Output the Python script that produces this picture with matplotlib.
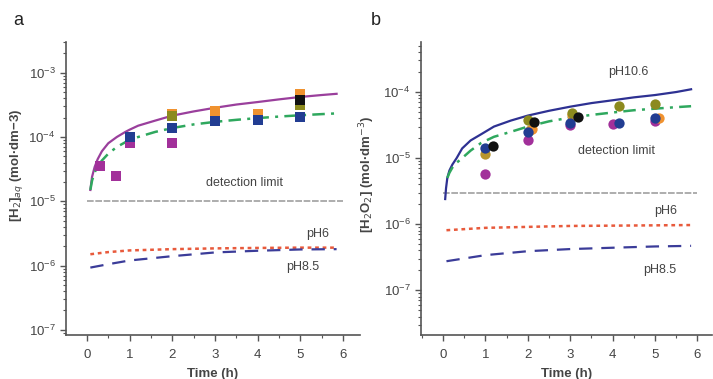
import matplotlib.pyplot as plt
from matplotlib.ticker import LogLocator, NullFormatter, MultipleLocator

plt.rcParams['font.family'] = ['Liberation Sans', 'DejaVu Sans']

# =====================================
# Panel a data: [H2]aq
# =====================================
a_t_high = [0.08, 0.12, 0.18, 0.25, 0.35, 0.5, 0.7, 0.9, 1.0, 1.2, 1.6, 2.0,
            2.5, 3.0, 3.5, 4.0, 4.5, 5.0, 5.5, 5.85]
a_ph106 = [1.5e-5, 2.4e-5, 3.4e-5, 4.5e-5, 6.0e-5, 8.0e-5, 1.0e-4, 1.2e-4, 1.3e-4, 1.5e-4,
           1.8e-4, 2.15e-4, 2.5e-4, 2.85e-4, 3.2e-4, 3.5e-4, 3.85e-4, 4.2e-4, 4.5e-4, 4.7e-4]
a_fit = [1.5e-5, 2.1e-5, 2.8e-5, 3.5e-5, 4.3e-5, 5.5e-5, 7.0e-5, 8.3e-5, 9.0e-5, 1.0e-4,
         1.2e-4, 1.38e-4, 1.57e-4, 1.72e-4, 1.85e-4, 1.97e-4, 2.08e-4, 2.18e-4, 2.27e-4, 2.33e-4]

a_t_low = [0.08, 0.5, 1.0, 2.0, 3.0, 4.0, 5.0, 5.85]
a_ph6 = [1.5e-6, 1.62e-6, 1.72e-6, 1.8e-6, 1.85e-6, 1.88e-6, 1.9e-6, 1.9e-6]
a_ph85 = [9.3e-7, 1.05e-6, 1.2e-6, 1.4e-6, 1.6e-6, 1.7e-6, 1.78e-6, 1.8e-6]
a_detect = 1e-5

# squares (time, value) per series
a_mag_t = [0.3, 0.68, 1.0, 2.0]
a_mag_v = [3.5e-5, 2.5e-5, 8.0e-5, 8.1e-5]
a_orange_t = [2.0, 3.0, 4.0, 5.0]
a_orange_v = [2.3e-4, 2.5e-4, 2.3e-4, 4.7e-4]
a_olive_t = [2.0, 5.0]
a_olive_v = [2.15e-4, 3.1e-4]
a_black_t = [5.0]
a_black_v = [3.8e-4]
a_navy_t = [1.0, 2.0, 3.0, 4.0, 5.0]
a_navy_v = [1.0e-4, 1.4e-4, 1.75e-4, 1.85e-4, 2.05e-4]

# =====================================
# Panel b data: [H2O2]
# =====================================
b_t_high = [0.05, 0.07, 0.1, 0.15, 0.22, 0.32, 0.45, 0.65, 0.9, 1.2, 1.6, 2.0,
            2.5, 3.0, 3.5, 4.0, 4.5, 5.0, 5.5, 5.85]
b_ph106 = [2.4e-6, 3.5e-6, 5.0e-6, 6.5e-6, 8.0e-6, 1.0e-5, 1.4e-5, 1.85e-5, 2.3e-5, 3.0e-5,
           3.7e-5, 4.4e-5, 5.2e-5, 6.0e-5, 6.8e-5, 7.5e-5, 8.3e-5, 9.0e-5, 1.0e-4, 1.1e-4]
b_t_fit = [0.1, 0.15, 0.22, 0.32, 0.45, 0.65, 0.9, 1.2, 1.6, 2.0, 2.5, 3.0, 3.5,
           4.0, 4.5, 5.0, 5.5, 5.85]
b_fit = [5.0e-6, 6.0e-6, 7.2e-6, 8.5e-6, 1.0e-5, 1.3e-5, 1.7e-5, 2.1e-5, 2.5e-5, 3.0e-5,
         3.6e-5, 4.1e-5, 4.5e-5, 4.9e-5, 5.3e-5, 5.6e-5, 5.9e-5, 6.1e-5]

b_t_low = [0.08, 1.0, 2.0, 3.0, 4.0, 5.0, 5.85]
b_ph6 = [8.1e-7, 8.8e-7, 9.1e-7, 9.4e-7, 9.5e-7, 9.6e-7, 9.7e-7]
b_ph85 = [2.75e-7, 3.4e-7, 3.9e-7, 4.2e-7, 4.4e-7, 4.6e-7, 4.7e-7]
b_detect = 3.0e-6

# circles (time, value) per series
b_mag_t = [1.0, 2.0, 3.0, 4.0, 5.0]
b_mag_v = [5.7e-6, 1.9e-5, 3.2e-5, 3.3e-5, 3.7e-5]
b_tan_t = [1.0, 2.05]
b_tan_v = [1.15e-5, 2.7e-5]
b_orange_t = [2.1, 3.05, 5.1]
b_orange_v = [2.8e-5, 4.5e-5, 4.0e-5]
b_olive_t = [2.0, 3.05, 4.16, 5.0]
b_olive_v = [3.8e-5, 4.8e-5, 6.1e-5, 6.6e-5]
b_navy_t = [1.0, 2.0, 3.0, 4.16, 5.0]
b_navy_v = [1.4e-5, 2.5e-5, 3.4e-5, 3.4e-5, 4.0e-5]
b_black_t = [1.18, 2.14, 3.18]
b_black_v = [1.5e-5, 3.5e-5, 4.2e-5]

# =====================================
# Colours
# =====================================
purple = '#9a3f9c'
green = '#2fa85e'
red = '#e85a3c'
navy_dash = '#3b3c99'
navy_solid = '#2e3192'
grey_line = '#a0a0a0'
c_mag = '#a2309a'
c_orange = '#f0922f'
c_olive = '#8c8a1e'
c_tan = '#b8962e'
c_navy = '#223d92'
c_black = '#111111'
txt = '#444444'

fig = plt.figure(figsize=(7.13, 3.79), dpi=100)
ax_a = fig.add_axes([0.0926, 0.116, 0.4124, 0.773])
ax_b = fig.add_axes([0.5905, 0.116, 0.4085, 0.773])


def style_axes(ax, ylim, xlim):
    ax.set_yscale('log')
    ax.set_ylim(*ylim)
    ax.set_xlim(*xlim)
    for s in ['top', 'right']:
        ax.spines[s].set_visible(False)
    for s in ['left', 'bottom']:
        ax.spines[s].set_color('#555555')
        ax.spines[s].set_linewidth(1.2)
    ax.xaxis.set_major_locator(MultipleLocator(1))
    ax.xaxis.set_minor_locator(MultipleLocator(0.5))
    ax.yaxis.set_major_locator(LogLocator(base=10, numticks=12))
    ax.yaxis.set_minor_locator(LogLocator(base=10, subs=range(2, 10), numticks=12))
    ax.yaxis.set_minor_formatter(NullFormatter())
    ax.tick_params(which='major', length=4, width=1, color='#555555', labelsize=9.5, labelcolor=txt)
    ax.tick_params(axis='x', which='major', pad=6)
    ax.tick_params(which='minor', length=2.2, width=0.8, color='#555555')
    ax.set_xlabel('Time (h)', fontsize=9.5, fontweight='bold', color=txt, labelpad=5)


# =====================================
# Panel a
# =====================================
ax = ax_a
style_axes(ax, (8.3e-8, 3.0e-3), (-0.49, 6.4))
ax.plot([0, 6], [a_detect, a_detect], color=grey_line, lw=1.2, ls=(0, (4, 1)))
ax.plot(a_t_low, a_ph6, color=red, lw=1.8, ls=(0, (1.5, 1.5)))
ax.plot(a_t_low, a_ph85, color=navy_dash, lw=1.6, ls=(0, (6, 4)))
ax.plot(a_t_high, a_ph106, color=purple, lw=1.6)
ax.plot(a_t_high, a_fit, color=green, lw=1.8, ls=(0, (5, 2.5, 1.2, 2.5)))
mk = dict(marker='s', s=45, linewidths=0, zorder=3)
ax.scatter(a_mag_t, a_mag_v, color=c_mag, **mk)
ax.scatter(a_orange_t, a_orange_v, color=c_orange, **mk)
ax.scatter(a_olive_t, a_olive_v, color=c_olive, **mk)
ax.scatter(a_black_t, a_black_v, color=c_black, **mk)
ax.scatter(a_navy_t, a_navy_v, color=c_navy, **mk)
ax.text(3.7, 1.9e-5, 'detection limit', fontsize=9, color=txt, ha='center', va='center')
ax.text(5.4, 3.05e-6, 'pH6', fontsize=9, color=txt, ha='center', va='center')
ax.text(5.05, 9.5e-7, 'pH8.5', fontsize=9, color=txt, ha='center', va='center')
ax.set_ylabel('[H$_2$]$_{aq}$ (mol·dm−3)', fontsize=9.5, fontweight='bold', color=txt)
ax.yaxis.set_label_coords(-0.139, 0.58)

# =====================================
# Panel b
# =====================================
ax = ax_b
style_axes(ax, (2.1e-8, 5.7e-4), (-0.52, 6.35))
ax.plot([0, 6], [b_detect, b_detect], color=grey_line, lw=1.2, ls=(0, (4, 1)))
ax.plot(b_t_low, b_ph6, color=red, lw=1.8, ls=(0, (1.5, 1.5)))
ax.plot(b_t_low, b_ph85, color=navy_dash, lw=1.6, ls=(0, (6, 4)))
ax.plot(b_t_high, b_ph106, color=navy_solid, lw=1.6)
ax.plot(b_t_fit, b_fit, color=green, lw=1.8, ls=(0, (5, 2.5, 1.2, 2.5)))
mk = dict(marker='o', s=55, linewidths=0, zorder=3)
ax.scatter(b_mag_t, b_mag_v, color=c_mag, **mk)
ax.scatter(b_tan_t, b_tan_v, color=c_tan, **mk)
ax.scatter(b_orange_t, b_orange_v, color=c_orange, **mk)
ax.scatter(b_olive_t, b_olive_v, color=c_olive, **mk)
ax.scatter(b_navy_t, b_navy_v, color=c_navy, **mk)
ax.scatter(b_black_t, b_black_v, color=c_black, **mk)
ax.text(4.38, 2.0e-4, 'pH10.6', fontsize=9, color=txt, ha='center', va='center')
ax.text(4.1, 1.3e-5, 'detection limit', fontsize=9, color=txt, ha='center', va='center')
ax.text(5.25, 1.6e-6, 'pH6', fontsize=9, color=txt, ha='center', va='center')
ax.text(5.1, 2.0e-7, 'pH8.5', fontsize=9, color=txt, ha='center', va='center')
ax.set_ylabel('[H$_2$O$_2$] (mol·dm$^{-3}$)', fontsize=9.5, fontweight='bold', color=txt)
ax.yaxis.set_label_coords(-0.15, 0.55)

fig.text(0.018, 0.945, 'a', fontsize=13, color='#222222', va='center')
fig.text(0.52, 0.945, 'b', fontsize=13, color='#222222', va='center')

fig.savefig('out.png', dpi=100)
